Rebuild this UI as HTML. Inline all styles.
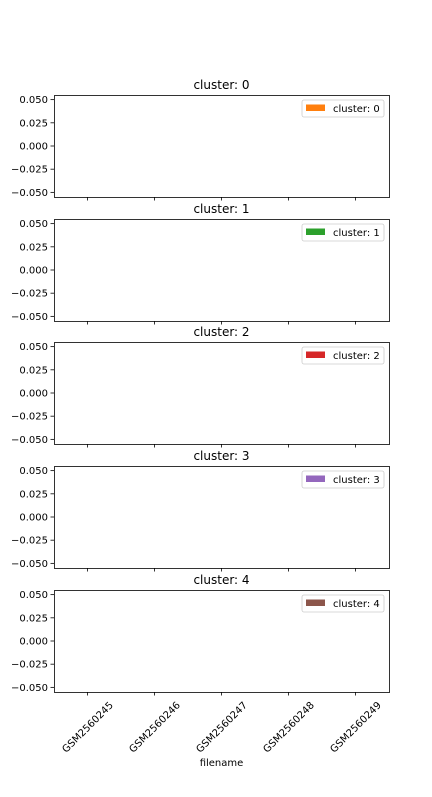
<!DOCTYPE html>
<html><head><meta charset="utf-8"><style>
body{margin:0;background:#fff;}
svg text{font-family:"DejaVu Sans","Liberation Sans",sans-serif;}
</style></head><body>
<svg id="chart" width="432" height="792" xmlns="http://www.w3.org/2000/svg"></svg>
<script>
const categories=["GSM2560245","GSM2560246","GSM2560247","GSM2560248","GSM2560249"];
const clusters=["0","1","2","3","4"];
const clusterColors=["#ff7f0e","#2ca02c","#d62728","#9467bd","#8c564b"];
const seriesValues=[[0,0,0,0,0],[0,0,0,0,0],[0,0,0,0,0],[0,0,0,0,0],[0,0,0,0,0]];
const yTicks=[0.05,0.025,0,-0.025,-0.05];
const yTickLabels=["0.050","0.025","0.000","\u22120.025","\u22120.050"];
const NS="http://www.w3.org/2000/svg";
const svg=document.getElementById('chart');
function mk(t,a,p){const e=document.createElementNS(NS,t);for(const k in a)e.setAttribute(k,a[k]);(p||svg).appendChild(e);return e;}
const L=54,R=389,H=102,tops=[95,219,342,466,590];
const yMin=-0.055,yMax=0.055;
function xS(i){return L+(i+0.5)*(R-L)/categories.length;}
clusters.forEach((c,pi)=>{
  const T=tops[pi];
  const yS=v=>T+(yMax-v)/(yMax-yMin)*H;
  const g=mk('g',{});
  
  
  const t=mk('text',{x:(L+R)/2,y:T-6,'text-anchor':'middle','font-size':12},g);t.textContent='cluster: '+c;
  
  
  // bars (zero height)
  seriesValues[pi].forEach((v,i)=>{
    const w=(R-L)/categories.length*0.5;
    const b=mk('rect',{x:xS(i)-w/2,y:Math.min(yS(v),yS(0)),width:w,height:Math.abs(yS(v)-yS(0)),fill:clusterColors[pi]},g);
    
    
  });
  const fr=mk('rect',{x:L+0.5,y:T+0.5,width:R-L,height:H,fill:'none',stroke:'#000','stroke-width':0.8},g);
  
  
  yTicks.forEach((v,i)=>{
    const y=yS(v);
    mk('line',{x1:L-3.5,x2:L,y1:y,y2:y,stroke:'#000','stroke-width':0.8},g);
    const tl=mk('text',{x:L-6,y:y+3.5,'text-anchor':'end','font-size':10},g);tl.textContent=yTickLabels[i];
    
    
  });
  categories.forEach((c2,i)=>{
    mk('line',{x1:xS(i),x2:xS(i),y1:T+H,y2:T+H+3.5,stroke:'#000','stroke-width':0.8},g);
  });
  const lg=mk('g',{},g);
  
  
  mk('rect',{x:302,y:T+5,width:82,height:17,rx:2,fill:'#fff',stroke:'#ccc','stroke-width':0.8},lg);
  mk('rect',{x:306,y:T+9.5,width:19,height:6.5,fill:clusterColors[pi]},lg);
  const lt=mk('text',{x:333,y:T+17,'font-size':10},lg);lt.textContent='cluster: '+c;
  
  
});
categories.forEach((c,i)=>{
  const cx=xS(i),cy=727;
  const t=mk('text',{x:cx,y:cy+3.5,'text-anchor':'middle','font-size':10,transform:`rotate(-45 ${cx} ${cy})`});
  t.textContent=c;
  
  
});
const xt=mk('text',{x:(L+R)/2,y:766,'text-anchor':'middle','font-size':10});
xt.textContent='filename';


</script>
</body></html>
